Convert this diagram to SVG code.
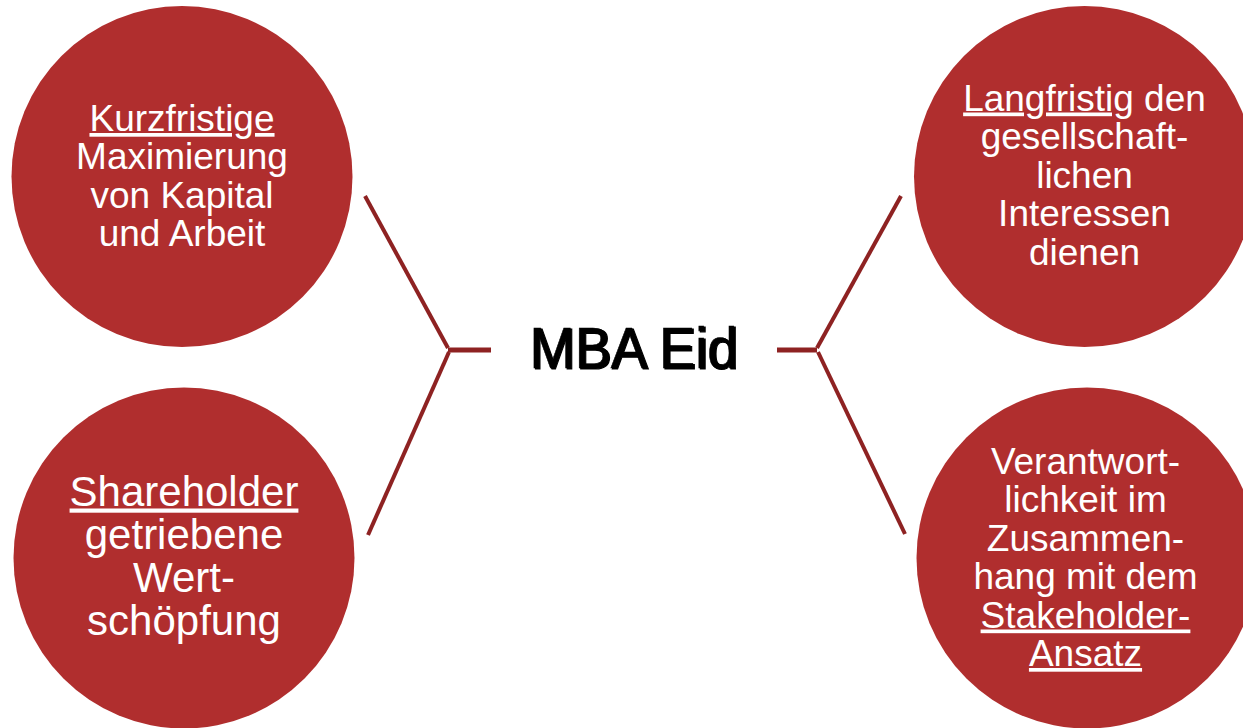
<svg xmlns="http://www.w3.org/2000/svg" width="1243" height="728" viewBox="0 0 1243 728">
<style>
.c{fill:#B02E2E}
.t{font-family:"Liberation Sans",Arial,sans-serif;fill:#FFFFFF;text-anchor:middle;font-size:37px}
.t42{font-size:42px}
.u{text-decoration:underline}
.ln{stroke:#8E2222;stroke-width:4;fill:none}
.hz{stroke:#8E2222;stroke-width:5;fill:none}
.m{font-family:"Liberation Sans",Arial,sans-serif;font-size:58px;text-anchor:middle;fill:#000000}
</style>
<rect width="1243" height="728" fill="#FFFFFF"/>
<g id="connectors">
<line class="ln" x1="365" y1="196" x2="448" y2="348"/>
<line class="ln" x1="449" y1="352" x2="368" y2="535"/>
<line class="hz" x1="448" y1="350" x2="491" y2="350"/>
<line class="hz" x1="777" y1="350" x2="817" y2="350"/>
<line class="ln" x1="817" y1="348" x2="901" y2="196"/>
<line class="ln" x1="818" y1="352" x2="905" y2="534"/>
</g>
<g id="center">
<text class="m" x="635" y="369" textLength="208" lengthAdjust="spacingAndGlyphs" stroke="#000000" stroke-width="1.2">MBA Eid</text>
<text class="m" x="633.5" y="367.5" textLength="208" lengthAdjust="spacingAndGlyphs" stroke="#000000" stroke-width="0.6">MBA Eid</text>
</g>
<g id="node-kurzfristig">
<circle class="c" cx="182" cy="176.5" r="170.5"/>
<text class="t u" x="182" y="131">Kurzfristige</text>
<text class="t" x="182" y="169.3">Maximierung</text>
<text class="t" x="182" y="207.6">von Kapital</text>
<text class="t" x="182" y="245.9">und Arbeit</text>
</g>
<g id="node-shareholder">
<circle class="c" cx="184" cy="558" r="170.5"/>
<text class="t t42 u" x="184" y="505.5">Shareholder</text>
<text class="t t42" x="184" y="548.5">getriebene</text>
<text class="t t42" x="184" y="591.5">Wert-</text>
<text class="t t42" x="184" y="634.5">schöpfung</text>
</g>
<g id="node-langfristig">
<circle class="c" cx="1084.5" cy="176.5" r="170.5"/>
<text class="t" x="1084.5" y="110.5"><tspan class="u">Langfristig</tspan> den</text>
<text class="t" x="1084.5" y="149">gesellschaft-</text>
<text class="t" x="1084.5" y="187.5">lichen</text>
<text class="t" x="1084.5" y="226">Interessen</text>
<text class="t" x="1084.5" y="264.5">dienen</text>
</g>
<g id="node-verantwortlichkeit">
<circle class="c" cx="1087" cy="558" r="170.5"/>
<text class="t" x="1085.5" y="473.5">Verantwort-</text>
<text class="t" x="1085.5" y="512">lichkeit im</text>
<text class="t" x="1085.5" y="550.5">Zusammen-</text>
<text class="t" x="1085.5" y="589">hang mit dem</text>
<text class="t u" x="1085.5" y="627.5">Stakeholder-</text>
<text class="t u" x="1085.5" y="666">Ansatz</text>
</g>
</svg>
